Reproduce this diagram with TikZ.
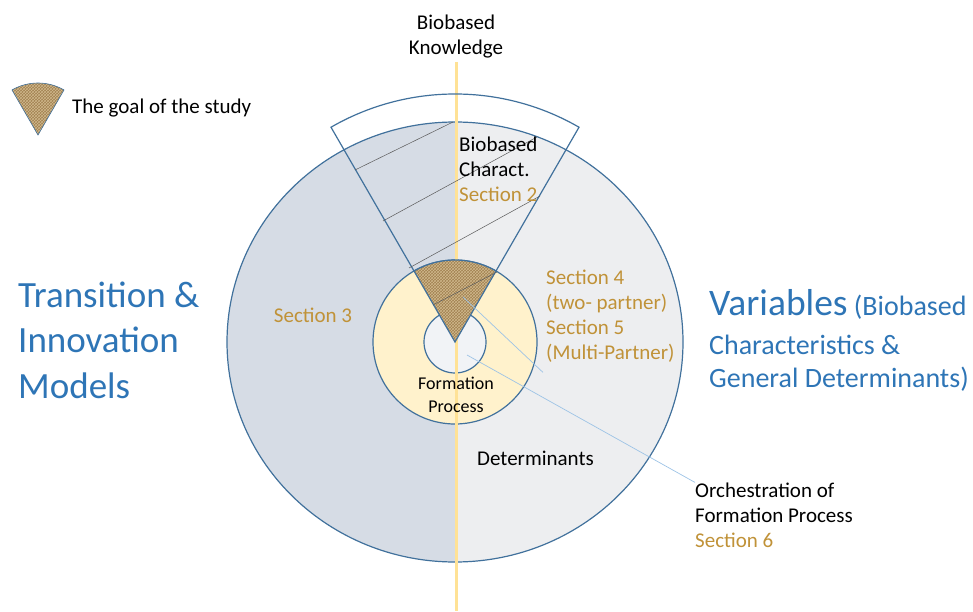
\documentclass[tikz,border=0pt]{standalone}
\usepackage{fontspec}
\setmainfont{Carlito}
\usetikzlibrary{patterns}
\definecolor{rimblue}{RGB}{65,113,156}
\definecolor{leftfill}{RGB}{214,220,229}
\definecolor{rightfill}{RGB}{237,238,240}
\definecolor{ringfill}{RGB}{255,242,204}
\definecolor{corefill}{RGB}{241,243,246}
\definecolor{axisyellow}{RGB}{255,226,150}
\definecolor{burlap}{RGB}{160,128,80}
\definecolor{burlaplight}{RGB}{208,184,140}
\definecolor{titleblue}{RGB}{46,117,182}
\definecolor{secgold}{RGB}{192,146,56}
\definecolor{calloutblue}{RGB}{157,195,230}

\begin{document}
\begin{tikzpicture}[x=1pt,y=1pt]
\tikzset{rim/.style={draw=rimblue,line width=1.2pt},
  hatch/.style={draw=black!65,line width=0.5pt},
  callout/.style={draw=calloutblue,line width=0.7pt},
  lbl/.style={inner sep=0pt,align=left,font=\fontsize{21}{25}\selectfont},
  sect/.style={lbl,text=secgold},
  big/.style={inner sep=0pt,align=left,text=titleblue}}
\useasboundingbox (0,0) rectangle (973,611);
\coordinate (O) at (455,269);
% band of the wedge outside the circle
\fill[white] (O) -- ++(60:248) arc (60:120:248) -- cycle;
% the two halves
\fill[leftfill] (O) ++(0,220) arc[start angle=90,end angle=270,x radius=228,y radius=220] -- cycle;
\fill[rightfill] (O) ++(0,-220) arc[start angle=-90,end angle=90,x radius=228,y radius=220] -- cycle;
\draw[rim] (O) ellipse [x radius=228,y radius=220];
% ring and core
\draw[rim,fill=ringfill] (O) circle (82);
\draw[rim,fill=corefill] (O) circle (31);
% axis
\draw[axisyellow,line width=3pt] (456,549) -- (456,0);
% goal of the study
\fill[burlap] (O) -- ++(60:82) arc (60:120:82) -- cycle;
\fill[pattern=crosshatch,pattern color=burlaplight] (O) -- ++(60:82) arc (60:120:82) -- cycle;
\draw[rim] (O) ++(60:82) arc (60:120:82);
\draw[rim] (O) -- ++(60:248) arc (60:120:248) -- cycle;
\draw[hatch] (453,489) -- (355,441);
\draw[hatch] (537,474) -- (383,390);
\draw[hatch] (540,415) -- (409,343);
\draw[hatch] (497,339) -- (433,306);
% legend
\coordinate (g) at (38,476);
\fill[burlap] (g) -- ++(60:52) arc (60:120:52) -- cycle;
\fill[pattern=crosshatch,pattern color=burlaplight] (g) -- ++(60:52) arc (60:120:52) -- cycle;
\draw[rimblue,line width=0.6pt] (g) -- ++(60:52) arc (60:120:52) -- cycle;
\node[lbl,anchor=west] (goal) at (72,503) {The goal of the study};
% labels
\node[lbl,align=center] (know) at (456,574) {Biobased\\Knowledge};
\node[big,anchor=west,font=\fontsize{37}{45.5}\selectfont] (trans) at (18,271) {Transition \&\\Innovation\\Models};
\node[sect] (s3) at (313,296) {Section 3};
\node[lbl,anchor=west] (char) at (459,442) {Biobased\\Charact.\\\textcolor{secgold}{Section 2}};
\node[sect,anchor=west] (s45) at (546,295) {Section 4\\(two- partner)\\Section 5\\(Multi-Partner)};
\node[big,anchor=west,font=\fontsize{28}{33}\selectfont] (vars) at (709,271)
  {{\fontsize{37.5}{40}\selectfont Variables} (Biobased\\[6pt]Characteristics \&\\General Determinants)};
\node[lbl,align=center,font=\fontsize{18}{23}\selectfont] (form) at (456,216) {Formation\\Process};
\node[lbl,anchor=west] (det) at (477,153) {Determinants};
\node[lbl,anchor=west] (orch) at (695,96) {Orchestration of\\Formation Process\\\textcolor{secgold}{Section 6}};
% callouts
\coordinate (p1) at (463,314);
\coordinate (p2) at (467,256);
\draw[callout] (p1) -- ([shift={(-3,-10)}]s45.south west);
\draw[callout] (p2) -- (orch.north west);
\end{tikzpicture}
\end{document}
